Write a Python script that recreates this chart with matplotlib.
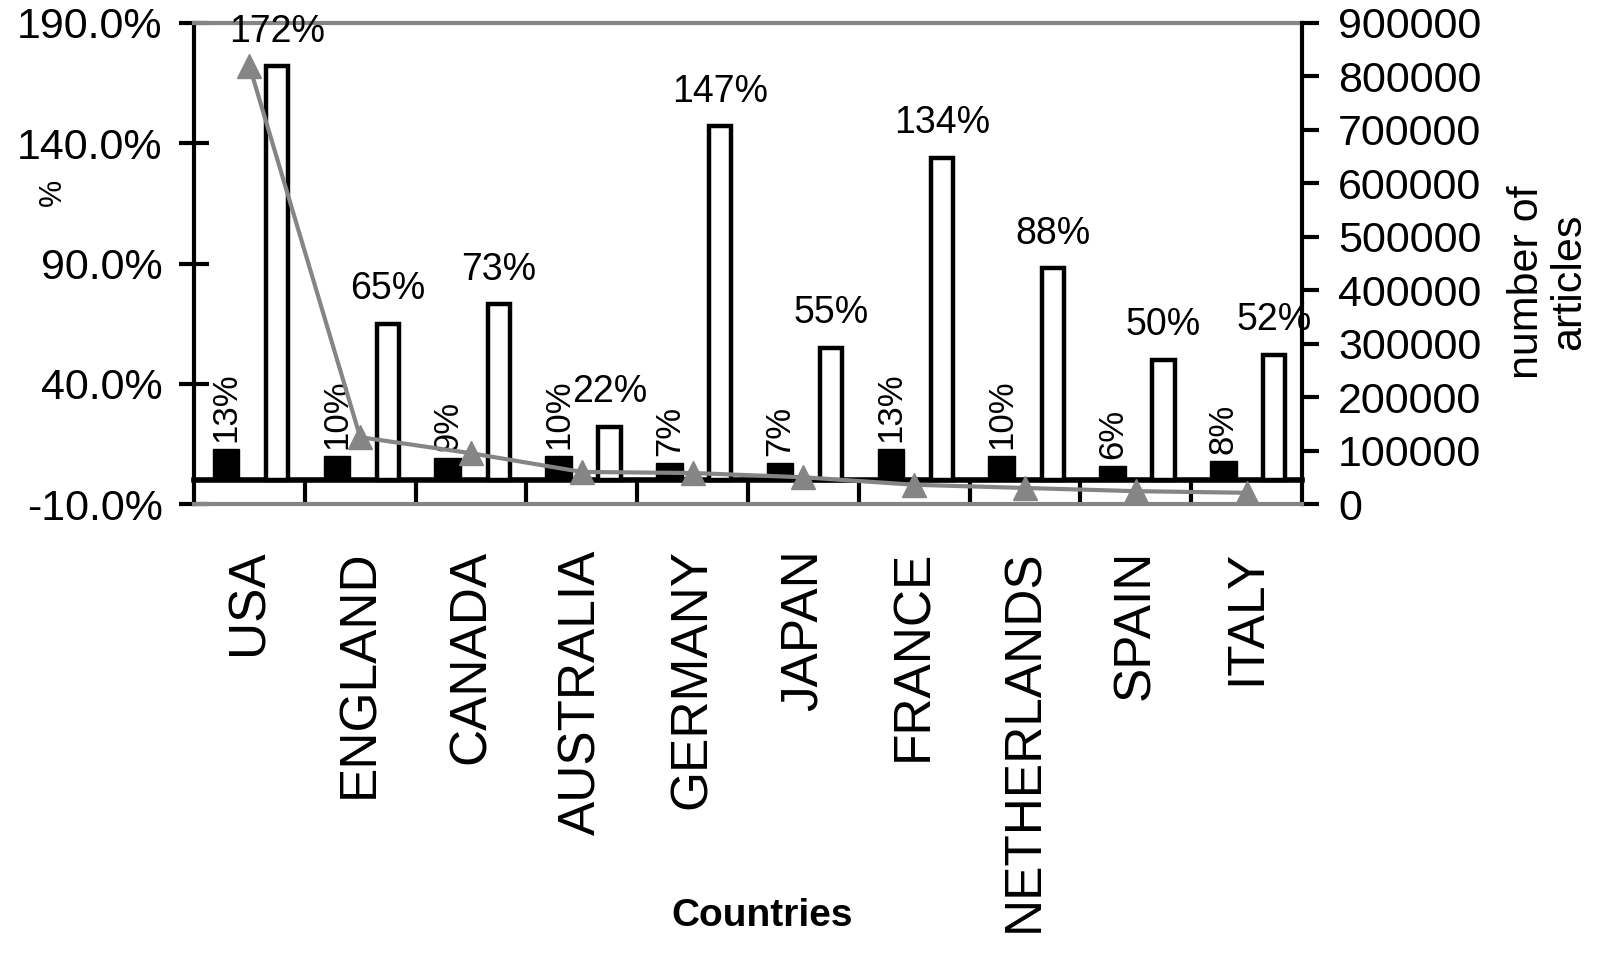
import numpy as np
import matplotlib
matplotlib.use("Agg")
import matplotlib.pyplot as plt
from matplotlib.ticker import FixedLocator

plt.rcParams['font.family'] = ['Liberation Sans', 'DejaVu Sans']

countries = ["USA", "ENGLAND", "CANADA", "AUSTRALIA", "GERMANY",
             "JAPAN", "FRANCE", "NETHERLANDS", "SPAIN", "ITALY"]
black_pct = [13, 10, 9, 10, 7, 7, 13, 10, 6, 8]
white_pct = [172, 65, 73, 22, 147, 55, 134, 88, 50, 52]
articles = [820000, 125000, 95000, 60000, 58000, 50000, 36000, 30000, 24000, 21000]
left_ticks = [-10, 40, 90, 140, 190]
right_ticks = [0, 100000, 200000, 300000, 400000, 500000, 600000, 700000, 800000, 900000]

W, H = 1604, 959
fig = plt.figure(figsize=(W / 100, H / 100), dpi=100)
L, R, T, B = 194, 1302, 23, 504
ax = fig.add_axes([L / W, 1 - B / H, (R - L) / W, (B - T) / H])

x = np.arange(len(countries))
grey = '#858585'

ax.bar(x - 0.21, black_pct, width=0.24, color='black', edgecolor='black', linewidth=1, zorder=3)
ax.bar(x + 0.25, white_pct, width=0.20, color='white', edgecolor='black', linewidth=3.2, zorder=3)

for xi, v in zip(x, black_pct):
    ax.annotate(f"{v}%", (xi - 0.21, v), xytext=(0, 5), textcoords='offset points',
                rotation=90, ha='center', va='bottom', fontsize=25, zorder=5)
for xi, v in zip(x, white_pct):
    ax.annotate(f"{v}%", (xi + 0.25, v), xytext=(0, 12), textcoords='offset points',
                ha='center', va='bottom', fontsize=27, zorder=5)

ax.set_xlim(-0.5, len(countries) - 0.5)
ax.set_ylim(-10, 190)

# left axis
ax.yaxis.set_major_locator(FixedLocator(left_ticks))
ax.set_yticklabels([f"{t:.1f}%" for t in left_ticks])
ax.tick_params(axis='y', direction='inout', length=21, width=3, labelsize=31, pad=12, color='black')

# category axis at 0
ax.set_xticks(np.arange(0.5, len(countries) - 0.5, 1), minor=True)
ax.set_xticks(x)
ax.tick_params(axis='x', which='major', length=0, pad=50, labelrotation=90, labelsize=37)
ax.tick_params(axis='x', which='minor', direction='out', length=16, width=3, color='black')
ax.set_xticklabels(countries)

ax.spines['bottom'].set_position(('data', 0))
ax.spines['bottom'].set_linewidth(4)
ax.spines['bottom'].set_color('black')
ax.spines['left'].set_linewidth(3)
ax.spines['left'].set_color('black')
ax.spines['top'].set_linewidth(3)
ax.spines['top'].set_color(grey)
ax.spines['right'].set_visible(False)

ax2 = ax.twinx()
ax2.plot(x, articles, color=grey, lw=3, marker='^', ms=17, mfc=grey, mec=grey, zorder=4)
ax2.set_ylim(0, 900000)
ax2.yaxis.set_major_locator(FixedLocator(right_ticks))
ax2.set_yticklabels([str(t) for t in right_ticks])
ax2.tick_params(axis='y', direction='out', length=12, width=3, labelsize=31, pad=14, color='black')
ax2.spines['right'].set_linewidth(3)
ax2.spines['right'].set_color('black')
ax2.spines['bottom'].set_linewidth(3)
ax2.spines['bottom'].set_color(grey)
ax2.spines['top'].set_visible(False)
ax2.spines['left'].set_visible(False)

fig.text(53 / W, 1 - 192 / H, "%", rotation=90, ha='center', va='center', fontsize=22)
fig.text(1548 / W, 1 - 282 / H, "number of\narticles", rotation=90, ha='center', va='center',
         fontsize=31, linespacing=1.05)
fig.text(762 / W, 1 - 916 / H, "Countries", ha='center', va='center', fontsize=28, fontweight='bold')

fig.savefig("out.png", dpi=100)
